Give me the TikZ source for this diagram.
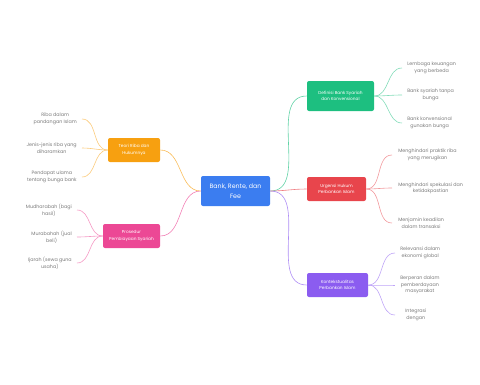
\documentclass[tikz,border=0pt]{standalone}
\usepackage{fontspec}
\setmainfont{Poppins}
\definecolor{hubblue}{HTML}{3B7DF0}
\definecolor{defgreen}{HTML}{1DBF80}
\definecolor{urgred}{HTML}{E8454C}
\definecolor{konpurple}{HTML}{8B5CF0}
\definecolor{ribaorange}{HTML}{F7A010}
\definecolor{propink}{HTML}{EC4895}
\definecolor{leafgray}{HTML}{7A7A7A}

\begin{document}
\begin{tikzpicture}[x=1pt, y=-1pt, line width=0.6pt,
  topic/.style={rounded corners=2pt, text=white, align=center,
    font=\fontsize{4.3}{6.4}\selectfont, inner sep=0pt},
  leafr/.style={anchor=west, inner xsep=5pt, inner ysep=0pt, align=center,
    text=leafgray, font=\fontsize{4.8}{6.4}\selectfont},
  leafl/.style={leafr, anchor=east}]
  \useasboundingbox (0,0) rectangle (480,384);

  % pusat
  \node[topic, fill=hubblue, minimum width=69pt, minimum height=30pt,
    font=\fontsize{6.3}{9.5}\selectfont] (hub) at (235.5,191) {Bank, Rente, dan\\Fee};

  % cabang utama
  \node[topic, fill=defgreen, minimum width=67pt, minimum height=30pt] (defn) at (340.5,96)
    {Definisi Bank Syariah\\dan Konvensional};
  \node[topic, fill=urgred, minimum width=59pt, minimum height=24pt] (urg) at (336.5,189)
    {Urgensi Hukum\\Perbankan Islam};
  \node[topic, fill=konpurple, minimum width=61pt, minimum height=24pt] (kon) at (337.5,285)
    {Kontekstualitas\\Perbankan Islam};
  \node[topic, fill=ribaorange, minimum width=52pt, minimum height=24pt] (riba) at (134,150)
    {Teori Riba dan\\Hukumnya};
  \node[topic, fill=propink, minimum width=57pt, minimum height=24pt] (pro) at (131.5,236)
    {Prosedur\\Pembiayaan Syariah};

  \draw[defgreen!70] (hub.east) to[out=0, in=180] (defn.west);
  \draw[urgred!70] (hub.east) to[out=0, in=180] (urg.west);
  \draw[konpurple!70] (hub.east) to[out=0, in=180] (kon.west);
  \draw[ribaorange!70] (riba.east) to[out=0, in=180] (hub.west);
  \draw[propink!70] (pro.east) to[out=0, in=180] (hub.west);

  % daun kanan
  \node[leafr] (defa) at (402,68) {Lembaga keuangan\\yang berbeda};
  \node[leafr] (defb) at (402,95) {Bank syariah tanpa\\bunga};
  \node[leafr] (defc) at (402,123) {Bank konvensional\\gunakan bunga};
  \draw[defgreen!55] (defn.east) to[out=0, in=180] (defa.west);
  \draw[defgreen!55] (defn.east) to[out=0, in=180] (defb.west);
  \draw[defgreen!55] (defn.east) to[out=0, in=180] (defc.west);

  \node[leafr, inner xsep=6pt] (urga) at (392,155) {Menghindari praktik riba\\yang merugikan};
  \node[leafr, inner xsep=6pt] (urgb) at (392,188) {Menghindari spekulasi dan\\ketidakpastian};
  \node[leafr, inner xsep=6pt] (urgc) at (392,223) {Menjamin keadilan\\dalam transaksi};
  \draw[urgred!55] (urg.east) to[out=0, in=180] (urga.west);
  \draw[urgred!55] (urg.east) to[out=0, in=180] (urgb.west);
  \draw[urgred!55] (urg.east) to[out=0, in=180] (urgc.west);

  \node[leafr] (kona) at (395,253) {Relevansi dalam\\ekonomi global};
  \node[leafr] (konb) at (395,285) {Berperan dalam\\pemberdayaan\\masyarakat};
  \node[leafr, inner xsep=10pt] (konc) at (395,315) {Integrasi\\dengan};
  \draw[konpurple!55] (kon.east) to[out=0, in=180] (kona.west);
  \draw[konpurple!55] (kon.east) to[out=0, in=180] (konb.west);
  \draw[konpurple!55] (kon.east) to[out=0, in=180] (konc.west);

  % daun kiri
  \node[leafl] (ribaa) at (82,119) {Riba dalam\\pandangan Islam};
  \node[leafl] (ribab) at (82,148) {Jenis-jenis riba yang\\diharamkan};
  \node[leafl] (ribac) at (82,177) {Pendapat ulama\\tentang bunga bank};
  \draw[ribaorange!55] (ribaa.east) to[out=0, in=180] (riba.west);
  \draw[ribaorange!55] (ribab.east) to[out=0, in=180] (riba.west);
  \draw[ribaorange!55] (ribac.east) to[out=0, in=180] (riba.west);

  \node[leafl] (proa) at (77,210) {Mudharabah (bagi\\hasil)};
  \node[leafl] (prob) at (77,237) {Murabahah (jual\\beli)};
  \node[leafl] (proc) at (77,263) {Ijarah (sewa guna\\usaha)};
  \draw[propink!55] (proa.east) to[out=0, in=180] (pro.west);
  \draw[propink!55] (prob.east) to[out=0, in=180] (pro.west);
  \draw[propink!55] (proc.east) to[out=0, in=180] (pro.west);
\end{tikzpicture}
\end{document}
